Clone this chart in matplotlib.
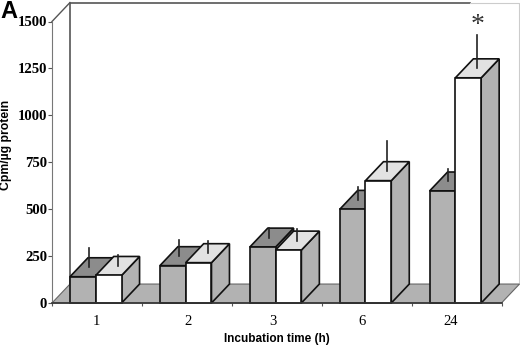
import matplotlib
matplotlib.use("Agg")
import matplotlib.pyplot as plt
from matplotlib.patches import Polygon

# values
times = ["1", "2", "3", "6", "24"]
gray_vals = [140, 199, 298, 499, 597]
white_vals = [147, 215, 282, 652, 1200]
gray_err = [101, 85, 53, 69, 69]
white_err = [59, 64, 64, 160, 176]
yticks = [0, 250, 500, 750, 1000, 1250, 1500]

# pseudo 3d depth, in data units
DX = 0.2
DY = 101
BAR_W = 0.287
GRAY_START = 0.2

W, H = 520, 347
fig = plt.figure(figsize=(W / 100, H / 100), dpi=100)
ax = fig.add_axes([52 / W, 1 - 303 / H, 449.5 / W, 281.5 / H])
ax.set_xlim(0, 5)
ax.set_ylim(0, 1500)
ax.patch.set_visible(False)


def poly(pts, color, lw=1.2, ec="#111111", z=2):
    ax.add_patch(Polygon(pts, closed=True, facecolor=color, edgecolor=ec,
                         linewidth=lw, zorder=z, clip_on=False, joinstyle="miter"))


def bar3d(x, v, front, top, side, z):
    poly([(x + BAR_W, 0), (x + BAR_W + DX, DY), (x + BAR_W + DX, v + DY), (x + BAR_W, v)], side, z=z)
    poly([(x, v), (x + DX, v + DY), (x + BAR_W + DX, v + DY), (x + BAR_W, v)], top, z=z)
    poly([(x, 0), (x + BAR_W, 0), (x + BAR_W, v), (x, v)], front, z=z)


# back wall and floor
ax.plot([DX, DX, 4.65], [DY, 1500 + DY, 1500 + DY], color="#555555", lw=1.2,
        clip_on=False, zorder=1)
ax.plot([4.65, 5 + DX, 5 + DX], [1500 + DY, 1500 + DY, DY], color="#cccccc", lw=0.8,
        clip_on=False, zorder=1)
poly([(0, 0), (5, 0), (5 + DX, DY), (DX, DY)], "#b2b2b2", lw=0.8, ec="#666666", z=1)

for i in range(len(times)):
    x0 = i + GRAY_START
    x1 = x0 + BAR_W
    z = 3 + i * 3
    bar3d(x0, gray_vals[i], "#b2b2b2", "#8c8c8c", "#8c8c8c", z)
    bar3d(x1, white_vals[i], "white", "#e2e2e2", "#b2b2b2", z + 1)
    # error lines stand in the middle of the top face
    xg = x0 + BAR_W / 2 + DX / 2 - 0.035
    ax.plot([xg, xg], [gray_vals[i] + DY / 2, gray_vals[i] + DY / 2 + gray_err[i]],
            color="#222222", lw=1.2, clip_on=False, zorder=z + 2)
    xw = x1 + BAR_W / 2 + DX / 2
    ax.plot([xw, xw], [white_vals[i] + DY / 2, white_vals[i] + DY / 2 + white_err[i]],
            color="#222222", lw=1.2, clip_on=False, zorder=z + 2)

# diagonal from top of axis to the wall
ax.plot([0, DX], [1500, 1500 + DY], color="#555555", lw=1.0, clip_on=False, zorder=1)

for s in ["top", "right"]:
    ax.spines[s].set_visible(False)
ax.spines["left"].set_color("#777777")
ax.spines["bottom"].set_color("#333333")
ax.spines["bottom"].set_linewidth(1.2)
ax.spines["bottom"].set_zorder(30)

ax.set_yticks(yticks)
ax.set_yticklabels([str(t) for t in yticks], family="Liberation Serif", weight="bold", fontsize=10.6)
ax.tick_params(axis="y", length=3, width=0.8, color="#555555", pad=0.5)

ax.set_xticks(range(6))
ax.set_xticklabels([])
ax.tick_params(axis="x", length=2, width=0.8, color="#555555")
ax.set_xticks([0.49, 1.51, 2.46, 3.45, 4.43], labels=times, minor=True,
              family="Liberation Serif", fontsize=10.5)
ax.tick_params(axis="x", which="minor", length=0, pad=8.5)

fig.text(276.5 / W, 1 - 339 / H, "Incubation time (h)", family="Liberation Sans", weight="bold",
         fontsize=8.5, ha="center", va="center")
fig.text(6.5 / W, 1 - 145 / H, "Cpm/µg protein", family="Liberation Sans", weight="bold",
         fontsize=8.8, rotation=90, ha="center", va="center")
fig.text(0, 1 - 18.5 / H, "A", family="Liberation Sans", weight="bold", fontsize=17,
         ha="left", va="baseline")
fig.text(477.5 / W, 1 - 26 / H, "*", family="Liberation Serif", fontsize=20, color="#333333",
         ha="center", va="center")

fig.savefig("out.png", dpi=100)
